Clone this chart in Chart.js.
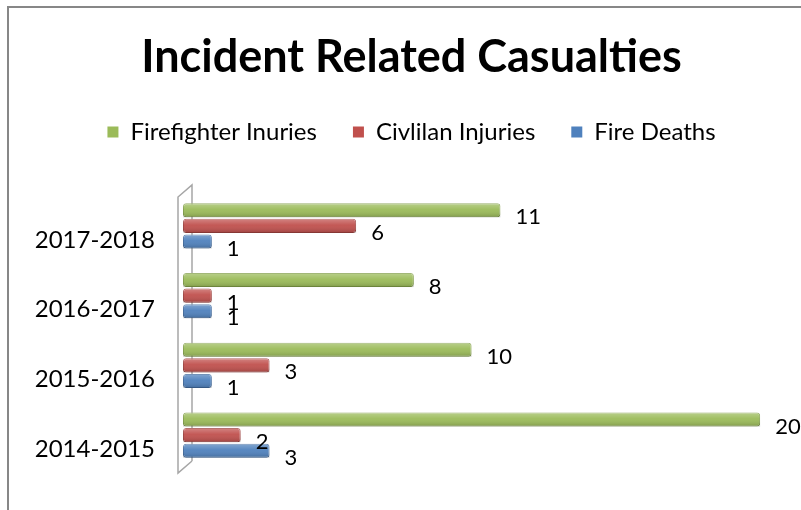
<!DOCTYPE html>
<html>
<head>
<meta charset="utf-8">
<script src="https://cdn.jsdelivr.net/npm/chart.js@4"></script>
<style>
  html, body { margin: 0; padding: 0; background: #fff; }
  #wrap { width: 801px; height: 510px; }
</style>
</head>
<body>
<div id="wrap"><canvas id="casualtyChart" width="801" height="510"></canvas></div>
<script>
/* ── Data ─────────────────────────────────────────────────── */
const seasons          = ['2017-2018', '2016-2017', '2015-2016', '2014-2015'];
const firefighterInj   = [11, 8, 10, 20];
const civilianInj      = [6, 1, 3, 2];
const fireDeaths       = [1, 1, 1, 3];
const seriesNames      = ['Firefighter Inuries', 'Civlilan Injuries', 'Fire Deaths'];

const FONT = 'Lato, "Open Sans", sans-serif';

/* ── Frame + 3D wall, drawn behind bars ───────────────────── */
const framePlugin = {
  id: 'frame',
  beforeDraw(chart) {
    const c = chart.ctx;
    c.save();
    c.fillStyle = '#fff';
    c.fillRect(0, 0, chart.width, chart.height);
    c.strokeStyle = '#878787';
    c.lineWidth = 2;
    c.beginPath();
    c.moveTo(8, chart.height);
    c.lineTo(8, 7);
    c.lineTo(chart.width, 7);
    c.stroke();
    c.restore();
  },
  beforeDatasetsDraw(chart) {
    const a = chart.chartArea, c = chart.ctx;
    c.save();
    c.strokeStyle = '#a6a6a6';
    c.lineWidth = 1.5;
    c.beginPath();
    c.moveTo(a.left + 9, a.bottom - 9);
    c.lineTo(a.left + 9, a.top - 6);
    c.lineTo(a.left - 5, a.top + 6);
    c.lineTo(a.left - 5, a.bottom + 3);
    c.lineTo(a.left + 9, a.bottom - 9);
    c.stroke();
    c.restore();
  }
};

/* ── Cylinder-ish shading over each bar + value labels ───── */
const barDecor = {
  id: 'barDecor',
  afterDatasetsDraw(chart) {
    const c = chart.ctx;
    c.save();
    chart.data.datasets.forEach((ds, i) => {
      chart.getDatasetMeta(i).data.forEach(bar => {
        const top = bar.y - bar.height / 2;
        const g = c.createLinearGradient(0, top, 0, top + bar.height);
        g.addColorStop(0, 'rgba(255,255,255,0.30)');
        g.addColorStop(0.45, 'rgba(255,255,255,0.05)');
        g.addColorStop(1, 'rgba(0,0,0,0.18)');
        c.fillStyle = g;
        c.fillRect(bar.base, top, bar.x - bar.base, bar.height);
      });
    });

    c.font = '22px ' + FONT;
    c.fillStyle = '#000';
    c.textAlign = 'left';
    c.textBaseline = 'middle';
    chart.data.datasets.forEach((ds, i) => {
      chart.getDatasetMeta(i).data.forEach((bar, j) => {
        c.fillText(String(ds.data[j]), bar.x + 15, bar.y + 7);
      });
    });
    c.restore();
  }
};

const ctx = document.getElementById('casualtyChart').getContext('2d');

new Chart(ctx, {
  type: 'bar',
  data: {
    labels: seasons,
    datasets: [
      { label: seriesNames[0], data: firefighterInj, backgroundColor: '#9bbb59', borderColor: '#7f9c45', borderWidth: 1 },
      { label: seriesNames[1], data: civilianInj,    backgroundColor: '#c0504d', borderColor: '#9c3f3c', borderWidth: 1 },
      { label: seriesNames[2], data: fireDeaths,     backgroundColor: '#4f81bd', borderColor: '#3d679b', borderWidth: 1 }
    ]
  },
  options: {
    indexAxis: 'y',
    responsive: false,
    animation: false,
    layout: { padding: { left: 34, right: 12, top: 0, bottom: 40 } },
    datasets: {
      bar: { categoryPercentage: 0.67, barPercentage: 0.9, borderRadius: 3, borderSkipped: false }
    },
    plugins: {
      title: {
        display: true,
        text: 'Incident Related Casualties',
        color: '#000',
        font: { family: FONT, size: 45, weight: 'bold' },
        padding: { top: 30, bottom: 0 }
      },
      legend: {
        position: 'top',
        labels: {
          color: '#000',
          font: { family: FONT, size: 24 },
          boxWidth: 11,
          boxHeight: 11,
          padding: 36,
          generateLabels(chart) {
            return Chart.defaults.plugins.legend.labels.generateLabels(chart)
              .map(l => Object.assign(l, { lineWidth: 0, strokeStyle: l.fillStyle }));
          }
        }
      },
      tooltip: { enabled: false }
    },
    scales: {
      x: {
        position: 'top',
        min: 0,
        max: 21,
        grid: { display: false },
        border: { display: false },
        ticks: { display: false },
        afterFit(scale) { scale.height = 37; }
      },
      y: {
        grid: { display: false },
        border: { display: false },
        ticks: {
          color: '#000',
          font: { family: FONT, size: 24 },
          padding: 20,
          labelOffset: 14
        },
        afterFit(scale) { scale.width = 149; }
      }
    }
  },
  plugins: [framePlugin, barDecor]
});
</script>
</body>
</html>
